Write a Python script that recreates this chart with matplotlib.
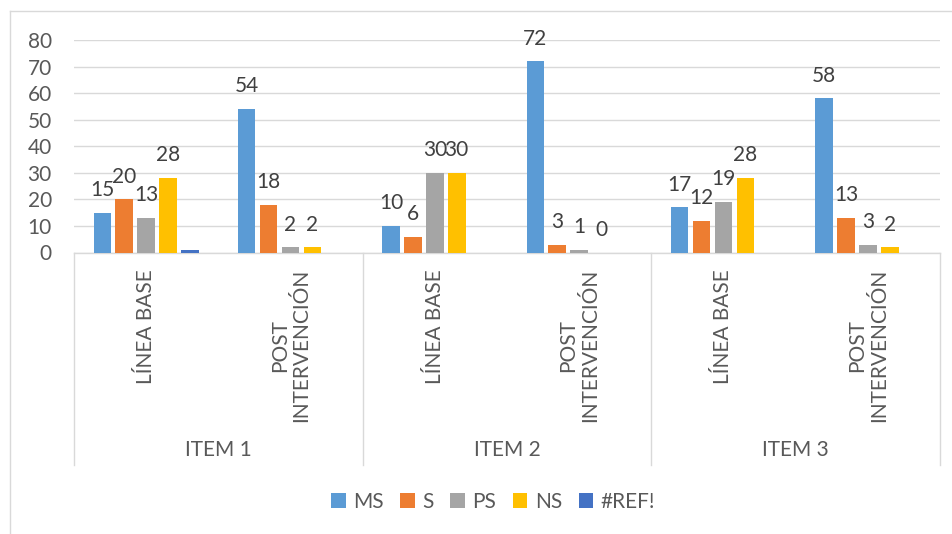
import matplotlib.pyplot as plt
import matplotlib.transforms as mtransforms
from matplotlib.lines import Line2D
from matplotlib.patches import Patch
import numpy as np

plt.rcParams['font.family'] = ['Lato', 'DejaVu Sans']

items = ['ITEM 1', 'ITEM 2', 'ITEM 3']
phases = ['LÍNEA BASE', 'POST\nINTERVENCIÓN']
series = ['MS', 'S', 'PS', 'NS', '#REF!']
colors = ['#5B9BD5', '#ED7D31', '#A5A5A5', '#FFC000', '#4472C4']

# one value per (item, phase), in order
ms = [15, 54, 10, 72, 17, 58]
s = [20, 18, 6, 3, 12, 13]
ps = [13, 2, 30, 1, 19, 3]
ns = [28, 2, 30, 0, 28, 2]
ref = [1, None, None, None, None, None]

values = [ms, s, ps, ns, ref]
show_labels = [True, True, True, True, False]

grid_col = '#D9D9D9'
txt_col = '#595959'
lbl_col = '#404040'
fs = 15

fig = plt.figure(figsize=(9.52, 5.34), dpi=100)
ax = fig.add_axes([74 / 952, 1 - 252.5 / 534, 866 / 952, 212.5 / 534])

n_cat = len(items) * len(phases)
x = np.arange(n_cat)
slot = 0.152
bw = 0.121

for k, vals in enumerate(values):
    off = slot * (k - 2)
    for i, v in enumerate(vals):
        if v is None:
            continue
        ax.bar(x[i] + off, v, width=bw, color=colors[k], zorder=3)
        if show_labels[k]:
            ax.annotate(str(v), (x[i] + off, v), xytext=(0, 12),
                        textcoords='offset points', ha='center',
                        va='baseline', fontsize=fs, color=lbl_col)

ax.set_xlim(-0.5, n_cat - 0.5)
ax.set_ylim(0, 80)
ax.set_yticks(range(0, 81, 10))
ax.yaxis.grid(True, color=grid_col, lw=1.0, zorder=0)
ax.set_axisbelow(True)
ax.set_xticks([])
for sp in ['top', 'right', 'left']:
    ax.spines[sp].set_visible(False)
ax.spines['bottom'].set_color(grid_col)
ax.spines['bottom'].set_linewidth(1.0)
ax.tick_params(axis='y', length=0, pad=16, labelsize=fs, labelcolor=txt_col)

# multi-level category axis
tr = mtransforms.blended_transform_factory(ax.transData, ax.transAxes)
for b in np.arange(-0.5, n_cat, 2):
    ax.add_line(Line2D([b, b], [0, -1.0], transform=tr, color=grid_col,
                       lw=1.0, clip_on=False))
for i in range(n_cat):
    ax.text(x[i], -0.078, phases[i % 2], transform=tr, rotation=90,
            ha='center', va='top', multialignment='center',
            fontsize=fs, color=txt_col, linespacing=1.1)
for g, name in enumerate(items):
    ax.text(2 * g + 0.5, -0.929, name, transform=tr, ha='center',
            va='center', fontsize=fs, color=txt_col)

# chart area border (left and top visible)
fig.add_artist(Line2D([10 / 952, 10 / 952], [0, 1 - 11 / 534],
                      transform=fig.transFigure, color=grid_col, lw=1.0))
fig.add_artist(Line2D([10 / 952, 1], [1 - 11 / 534, 1 - 11 / 534],
                      transform=fig.transFigure, color=grid_col, lw=1.0))

handles = [Patch(facecolor=c, edgecolor='none') for c in colors]
leg = fig.legend(handles, series, loc='center', bbox_to_anchor=(0.518, 0.06),
                 ncol=5, frameon=False, fontsize=fs, handlelength=0.7,
                 handleheight=0.7, handletextpad=0.35, columnspacing=0.8)
for t in leg.get_texts():
    t.set_color(txt_col)

fig.savefig('out.png', dpi=100)
